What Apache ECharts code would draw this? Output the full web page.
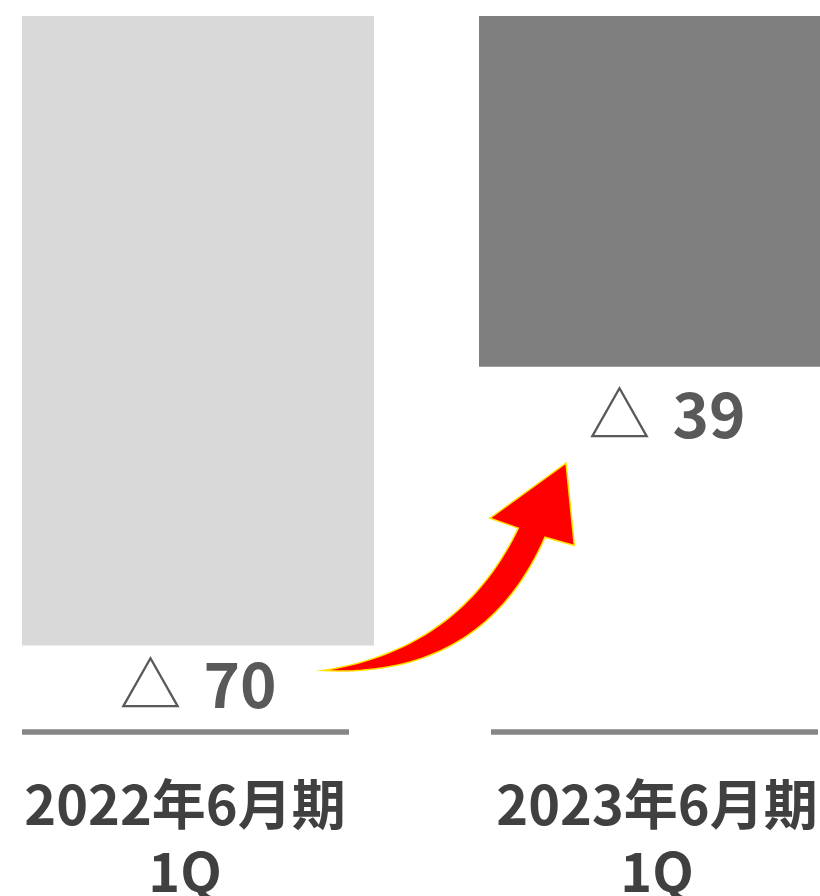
<!DOCTYPE html>
<html><head><meta charset="utf-8">
<script src="https://cdn.jsdelivr.net/npm/echarts@6/dist/echarts.min.js"></script>
<style>html,body{margin:0;padding:0;background:#fff}#c{width:820px;height:896px}</style>
</head><body><div id="c"></div>
<script>
// ---- data ----
const categories = ['2022年6月期\n1Q', '2023年6月期\n1Q'];
const values2022 = [-70, null];
const values2023 = [null, -39];
const yMin = -80;
const yMax = 0;

// ---- styling ----
const FONT = 'Noto Sans CJK JP';
const chart = echarts.init(document.getElementById('c'), null, {renderer: 'canvas'});

function valueLabel(p) { return '{t|△}{n|' + Math.abs(p.value) + '}'; }
const labelRich = {
  t: {fontFamily: FONT, fontWeight: 'normal', fontSize: 62, color: '#595959', padding: [0, 22, 0, 0]},
  n: {fontFamily: FONT, fontWeight: 'bold', fontSize: 62, color: '#595959'}
};
const axisRich = {
  a: {fontFamily: FONT, fontWeight: 'bold', fontSize: 54, lineHeight: 67, color: '#404040', padding: [0, 50, 0, 0]},
  b: {fontFamily: FONT, fontWeight: 'bold', fontSize: 54, lineHeight: 67, color: '#404040', padding: [0, 20, 0, 0]}
};

chart.setOption({
  animation: false,
  backgroundColor: '#ffffff',
  grid: {left: -18.5, right: -75.5, top: 16, bottom: 160.5, containLabel: false, outerBoundsMode: 'none'},
  xAxis: {
    type: 'category',
    data: categories,
    axisLine: {show: false, onZero: false},
    axisTick: {show: false},
    splitLine: {show: false},
    axisLabel: {
      interval: 0,
      margin: 35,
      formatter: function (v, i) {
        const s = i === 0 ? 'a' : 'b';
        return v.split('\n').map(function (l) { return '{' + s + '|' + l + '}'; }).join('\n');
      },
      rich: axisRich
    }
  },
  yAxis: {
    type: 'value', min: yMin, max: yMax, show: false,
    splitLine: {show: false}
  },
  series: [
    {
      type: 'bar', name: '2022', data: values2022,
      barWidth: 352, barGap: '-100%',
      itemStyle: {color: '#D9D9D9'},
      label: {show: true, position: 'outside', distance: 8, formatter: valueLabel, rich: labelRich}
    },
    {
      type: 'bar', name: '2023', data: values2023,
      barWidth: 376, barGap: '-100%',
      itemStyle: {color: '#7F7F7F'},
      label: {show: true, position: 'outside', distance: 17, formatter: valueLabel, rich: labelRich}
    }
  ]
});

// ---- decorations: underlines & arrow, placed from the axes ----
const underlineSpans = [[-188, 139], [-176, 151]];
const baseY = chart.convertToPixel({yAxisIndex: 0}, yMin) - 3.5;
const graphics = [];
categories.forEach(function (c, i) {
  const cx = chart.convertToPixel({xAxisIndex: 0}, i);
  graphics.push({
    type: 'line', silent: true,
    shape: {x1: cx + underlineSpans[i][0], y1: baseY, x2: cx + underlineSpans[i][1], y2: baseY},
    style: {stroke: '#868686', lineWidth: 5.5}
  });
});
const o = chart.convertToPixel({seriesIndex: 0}, [0, values2022[0]]); // bar1 bottom centre
function R(x, y) { return [o[0] + x, o[1] + y]; }
function quad(p0, c, p1, n) {
  const pts = [];
  for (let k = 0; k <= n; k++) {
    const t = k / n, u = 1 - t;
    pts.push([u * u * p0[0] + 2 * u * t * c[0] + t * t * p1[0], u * u * p0[1] + 2 * u * t * c[1] + t * t * p1[1]]);
  }
  return pts;
}
// arrow geometry expressed relative to first bar's bottom centre
const tail = R(112.7, 25);
const upperEnd = R(308.3, -117.4);
const lowerEnd = R(335, -108.4);
let arrowPts = quad(tail, R(250, 4), upperEnd, 40);
arrowPts.push(R(280, -127.4), R(356, -182.4), R(364.3, -100), lowerEnd);
arrowPts = arrowPts.concat(quad(lowerEnd, R(273, 33), tail, 40).slice(1));
graphics.push({
  type: 'polygon', silent: true, z: 100,
  shape: {points: arrowPts},
  style: {fill: '#FF0000', stroke: '#FFE000', lineWidth: 1.5, lineJoin: 'miter'}
});
chart.setOption({graphic: graphics});
</script>
</body></html>
